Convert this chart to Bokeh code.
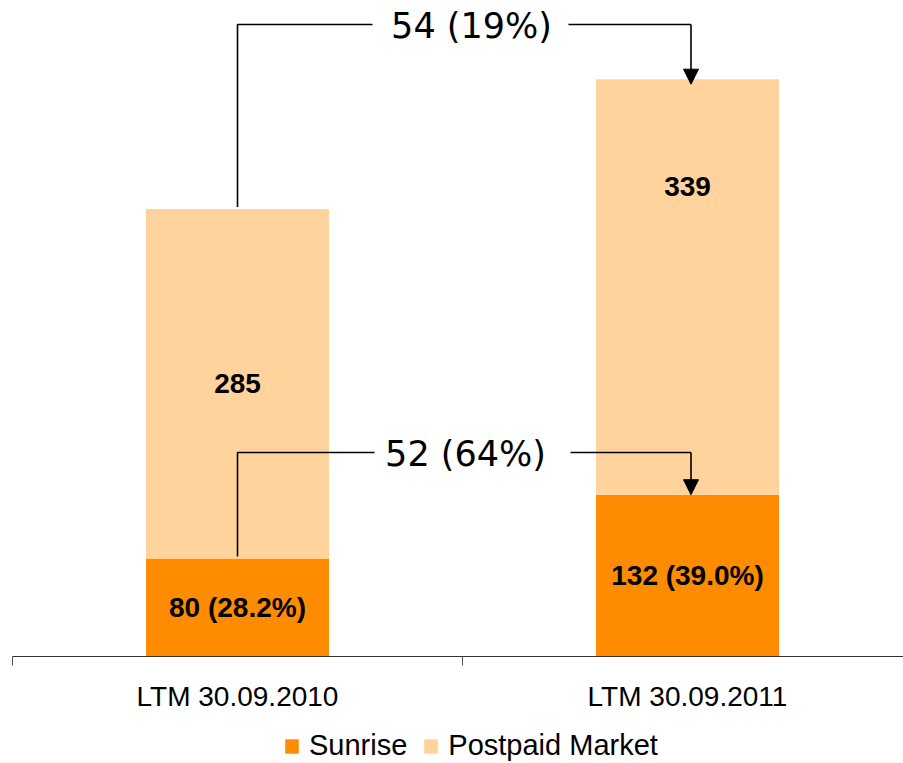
from bokeh.plotting import figure
from bokeh.models import (Range1d, LinearAxis, FixedTicker, Legend, LegendItem,
                          Arrow, NormalHead, ColumnDataSource)
from bokeh.core.properties import value
from bokeh.embed import file_html
from bokeh.resources import INLINE

# --- data -------------------------------------------------------------
periods = ["LTM 30.09.2010", "LTM 30.09.2011"]
sunrise = [80, 132]
postpaid_market = [285, 339]
sunrise_share = [28.2, 39.0]          # Sunrise share of postpaid market, %
change_labels = ["54 (19%)", "52 (64%)"]
series_names = ["Sunrise", "Postpaid Market"]

SUNRISE_COLOR = "#FF8C00"
MARKET_COLOR = "#FFD39B"

# --- geometry ---------------------------------------------------------
W, H = 903, 763
PX_PER_UNIT = 1.2257        # vertical scale, pixels per value unit
BASE_PX = 656               # pixel row of the zero line
CAT_PX = 450                # pixel width of one category slot
LEFT_PX = 12                # pixel column of the first category boundary

x_range = Range1d(-LEFT_PX / CAT_PX, (W - LEFT_PX) / CAT_PX)
y_range = Range1d(-(H - BASE_PX) / PX_PER_UNIT, BASE_PX / PX_PER_UNIT)

p = figure(width=W, height=H, x_range=x_range, y_range=y_range,
           output_backend="svg", toolbar_location=None,
           min_border=0, outline_line_color=None,
           x_axis_type=None, y_axis_type=None)
p.grid.visible = False

xc = [i + 0.5 for i in range(len(periods))]
src = ColumnDataSource(dict(x=xc, sunrise=sunrise, market=postpaid_market))
renderers = p.vbar_stack(["sunrise", "market"], x="x", width=183 / CAT_PX,
                         source=src, color=[SUNRISE_COLOR, MARKET_COLOR],
                         line_color=None)

# --- category axis (ticks at slot boundaries, labels at centres) ------
n_slots = len(periods)
axis = LinearAxis(fixed_location=0, bounds=(0, n_slots),
                  ticker=FixedTicker(ticks=xc, minor_ticks=list(range(n_slots + 1))))
axis.major_label_overrides = {c: lab for c, lab in zip(xc, periods)}
axis.axis_line_color = "#333333"
axis.axis_line_width = 1
axis.major_tick_line_color = None
axis.major_tick_out = 0
axis.major_tick_in = 0
axis.minor_tick_line_color = "#555555"
axis.minor_tick_out = 9
axis.minor_tick_in = 0
axis.major_label_standoff = 15
axis.major_label_text_font = "Liberation Sans"
axis.major_label_text_font_size = "28px"
axis.major_label_text_color = "black"
p.add_layout(axis, "below")

# --- value labels inside the bars --------------------------------------
sun_y = [v / 2 for v in sunrise]
sun_txt = [f"{v} ({s:.1f}%)" for v, s in zip(sunrise, sunrise_share)]
label_pos = [0.5, 0.742]     # relative position of the label inside the market segment
mkt_y = [s + m * f for s, m, f in zip(sunrise, postpaid_market, label_pos)]
mkt_txt = [str(m) for m in postpaid_market]

p.text(x=xc + xc, y=sun_y + mkt_y, text=sun_txt + mkt_txt,
       text_font=value("Liberation Sans"), text_font_style="bold",
       text_font_size="28px", text_align="center", text_baseline="middle",
       text_color="black")

# --- change brackets ---------------------------------------------------
totals = [s + m for s, m in zip(sunrise, postpaid_market)]
arrow_dx = 3.5 / CAT_PX
gap_px = 2 / PX_PER_UNIT

brackets = [
    # (start level, end level, bracket height, arrow tip inset, text gap, text centre)
    (totals[0], totals[1], 515.6, 5 / PX_PER_UNIT, (372, 568), 471),
    (sunrise[0], sunrise[1], 166.4, 0.0, (374, 570), 465),
]
for (y0, y1, yb, inset, (g0, g1), tx), lab in zip(brackets, change_labels):
    x0 = xc[0]
    x1 = xc[1] + arrow_dx
    gx0 = (g0 - LEFT_PX) / CAT_PX
    gx1 = (g1 - LEFT_PX) / CAT_PX
    p.line([x0, x0, gx0], [y0 + gap_px, yb, yb], line_color="black", line_width=1.6)
    p.line([gx1, x1], [yb, yb], line_color="black", line_width=1.6)
    p.add_layout(Arrow(x_start=x1, y_start=yb, x_end=x1, y_end=y1 - inset,
                       line_color="black", line_width=1.6,
                       end=NormalHead(size=15, fill_color="black", line_color="black",
                                      line_width=1)))
    p.text(x=[(tx - LEFT_PX) / CAT_PX], y=[yb - 1.5 / PX_PER_UNIT], text=[lab],
           text_font=value("DejaVu Sans"), text_font_size="35px",
           text_align="center", text_baseline="middle", text_color="black")

# --- legend ------------------------------------------------------------
legend = Legend(items=[LegendItem(label=n, renderers=[r]) for n, r in zip(series_names, renderers)],
                orientation="horizontal", location=(283, 1),
                glyph_width=17, glyph_height=18, label_standoff=9, spacing=15,
                padding=0, margin=0, border_line_color=None,
                background_fill_alpha=0,
                label_text_font="Liberation Sans", label_text_font_size="29px",
                label_text_color="black")
p.add_layout(legend)

open("out.html", "w").write(file_html(p, INLINE))
